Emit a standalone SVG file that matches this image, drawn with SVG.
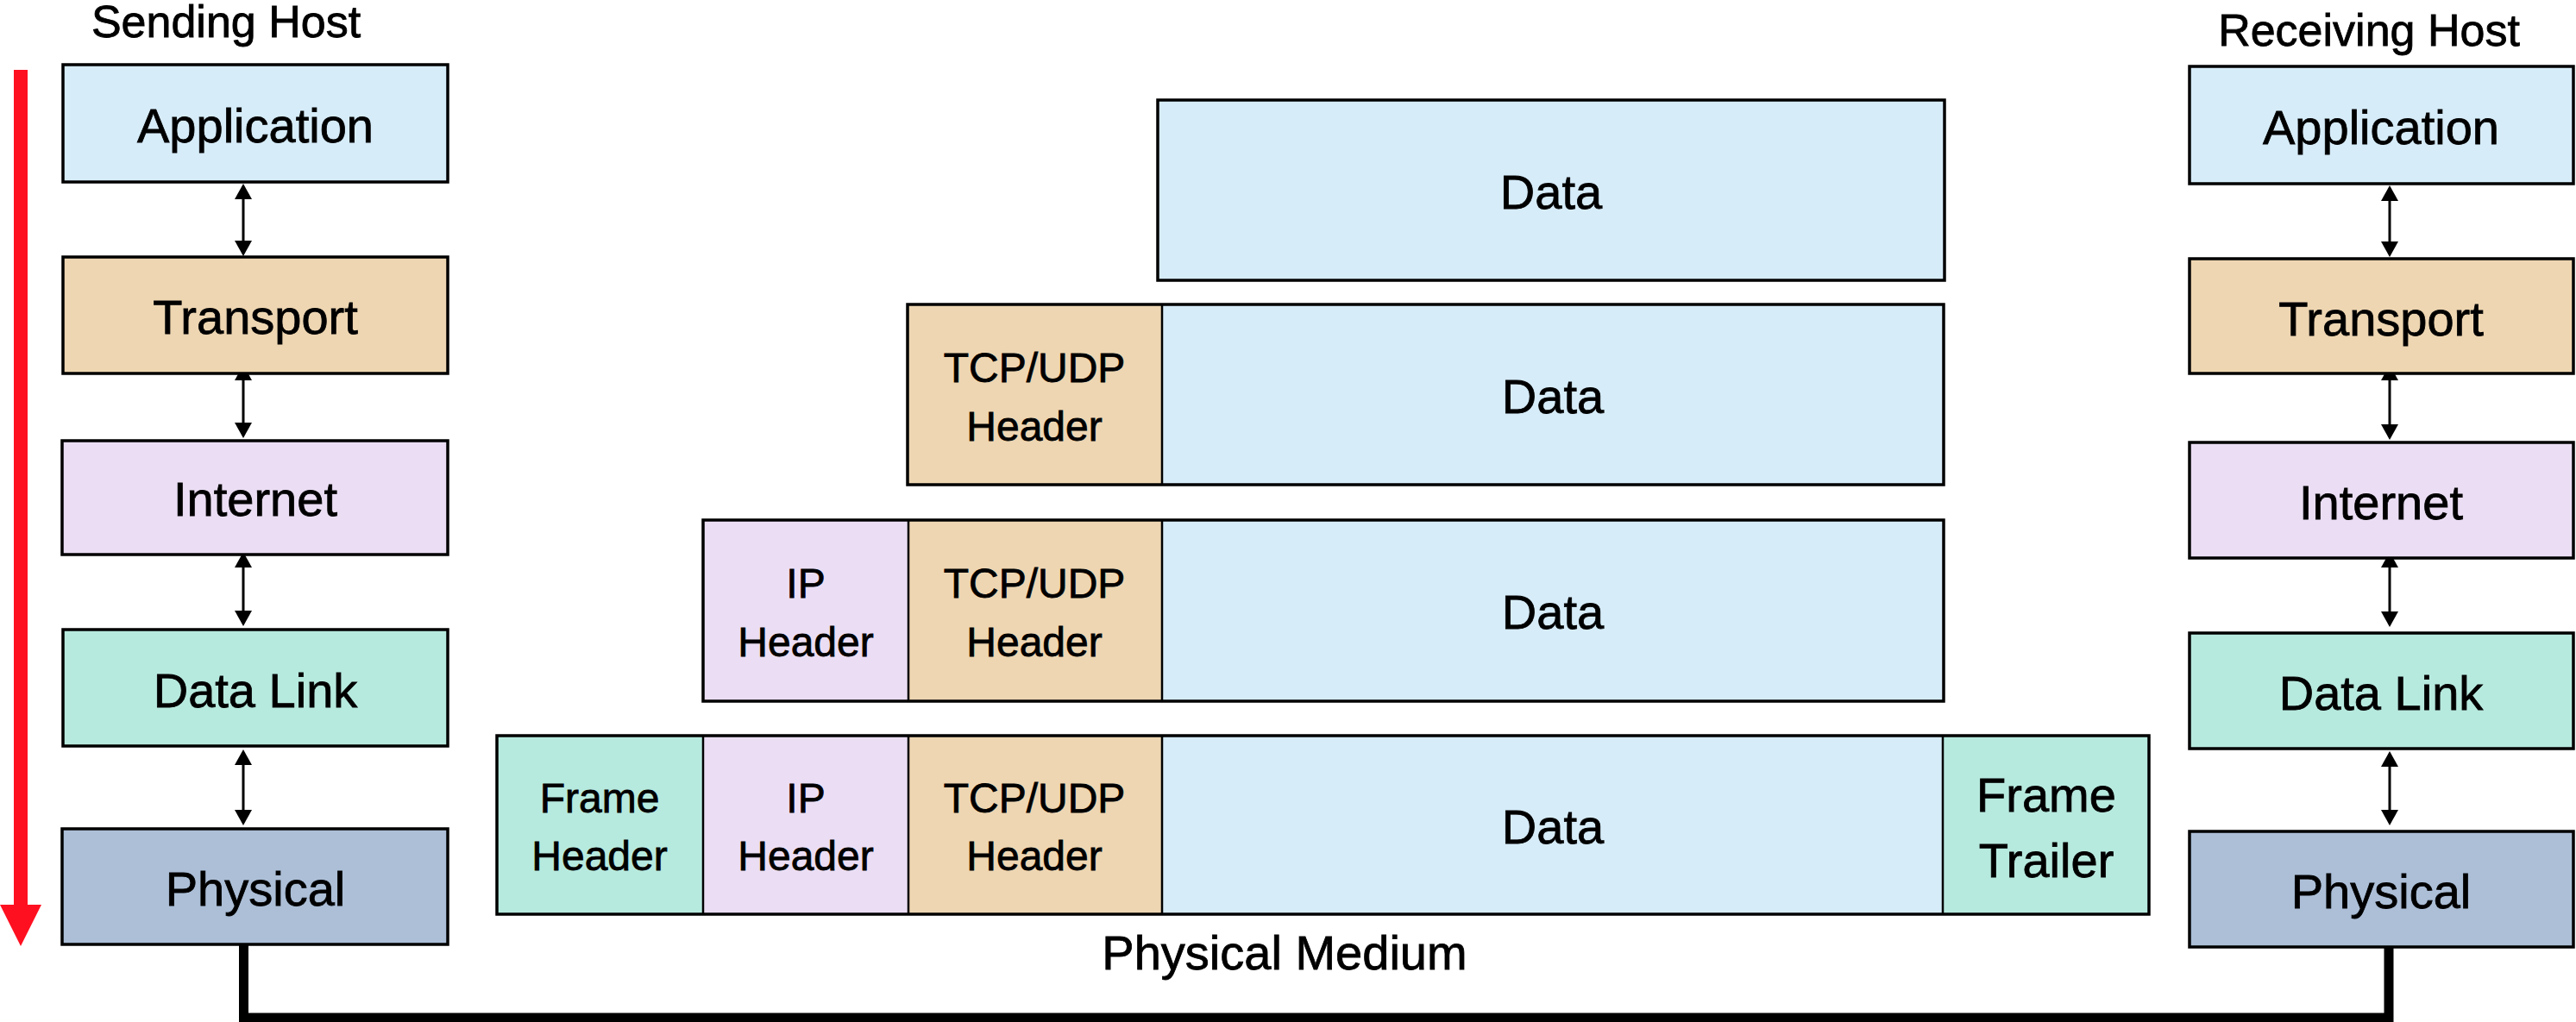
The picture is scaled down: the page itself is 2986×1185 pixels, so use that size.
<svg xmlns="http://www.w3.org/2000/svg" width="2986" height="1185" viewBox="0 0 2986 1185">
<style>
  text { font-family: "Liberation Sans", Arial, sans-serif; fill: #000; stroke: #000; stroke-width: 0.8; text-anchor: middle; }
  .lbl { font-size: 56px; }
  .hdr { font-size: 48px; }
  .ttl { font-size: 52px; }
  .box { stroke: #000; stroke-width: 3.5; }
  .app { fill: #D6ECF9; }
  .tra { fill: #EED6B2; }
  .int { fill: #EBDEF4; }
  .dl  { fill: #B7EADF; }
  .phy { fill: #ACBFD7; }
  .div { stroke: #000; stroke-width: 2.5; }
  .frame { fill: none; stroke: #000; stroke-width: 3.5; }
  .conn { stroke: #000; stroke-width: 3; fill: none; marker-start: url(#ah); marker-end: url(#ah); }
</style>
<defs>
  <marker id="ah" viewBox="0 0 18 20" refX="14" refY="10" markerWidth="18" markerHeight="20" markerUnits="userSpaceOnUse" orient="auto-start-reverse">
    <path d="M0,0 L18,10 L0,20 z" fill="#000"/>
  </marker>
</defs>
<rect width="2986" height="1185" fill="#fff"/>

<!-- Titles -->
<text class="ttl" x="262" y="43">Sending Host</text>
<text class="ttl" x="2746" y="53">Receiving Host</text>

<!-- Red direction arrow -->
<g id="direction-arrow">
  <rect x="16" y="81" width="16" height="970" fill="#FF1020"/>
  <polygon points="0,1049 48,1049 24,1097" fill="#FF1020"/>
</g>

<!-- Connectors -->
<g id="connectors">
  <path d="M282.5,1095 V1180 H2769 V1098" stroke="#000" stroke-width="11" fill="none" stroke-linejoin="miter"/>
  <line class="conn" x1="282" y1="217" x2="282" y2="293"/>
  <line class="conn" x1="282" y1="427" x2="282" y2="504"/>
  <line class="conn" x1="282" y1="644" x2="282" y2="722"/>
  <line class="conn" x1="282" y1="873" x2="282" y2="953"/>
  <line class="conn" x1="2770" y1="219" x2="2770" y2="294"/>
  <line class="conn" x1="2770" y1="427" x2="2770" y2="506"/>
  <line class="conn" x1="2770" y1="644" x2="2770" y2="723"/>
  <line class="conn" x1="2770" y1="875" x2="2770" y2="953"/>
</g>

<!-- Sending host stack -->
<g id="s-application"><rect class="box app" x="73" y="75" width="446" height="136"/><text class="lbl" x="296" y="165">Application</text></g>
<g id="s-transport"><rect class="box tra" x="73" y="298" width="446" height="135"/><text class="lbl" x="296" y="387">Transport</text></g>
<g id="s-internet"><rect class="box int" x="72" y="511" width="447" height="132"/><text class="lbl" x="296" y="598">Internet</text></g>
<g id="s-datalink"><rect class="box dl" x="73" y="730" width="446" height="135"/><text class="lbl" x="296" y="820">Data Link</text></g>
<g id="s-physical"><rect class="box phy" x="72" y="961" width="447" height="134"/><text class="lbl" x="296" y="1050">Physical</text></g>

<!-- Receiving host stack -->
<g id="r-application"><rect class="box app" x="2538" y="77" width="445" height="136"/><text class="lbl" x="2760" y="167">Application</text></g>
<g id="r-transport"><rect class="box tra" x="2538" y="300" width="445" height="133"/><text class="lbl" x="2760" y="389">Transport</text></g>
<g id="r-internet"><rect class="box int" x="2538" y="513" width="445" height="134"/><text class="lbl" x="2760" y="602">Internet</text></g>
<g id="r-datalink"><rect class="box dl" x="2538" y="734" width="445" height="134"/><text class="lbl" x="2760" y="823">Data Link</text></g>
<g id="r-physical"><rect class="box phy" x="2538" y="964" width="445" height="134"/><text class="lbl" x="2760" y="1053">Physical</text></g>

<!-- Packet row 1 -->
<g id="row1">
  <rect class="box app" x="1342" y="116" width="912" height="209"/>
  <text class="lbl" x="1798" y="242">Data</text>
</g>

<!-- Packet row 2 -->
<g id="row2">
  <rect class="tra" x="1052" y="353" width="295" height="209"/>
  <rect class="app" x="1347" y="353" width="906" height="209"/>
  <rect class="frame" x="1052" y="353" width="1201" height="209"/>
  <line class="div" x1="1347" y1="353" x2="1347" y2="562"/>
  <text class="hdr" x="1199" y="443">TCP/UDP</text>
  <text class="hdr" x="1199" y="511">Header</text>
  <text class="lbl" x="1800" y="479">Data</text>
</g>

<!-- Packet row 3 -->
<g id="row3">
  <rect class="int" x="815" y="603" width="238" height="210"/>
  <rect class="tra" x="1053" y="603" width="294" height="210"/>
  <rect class="app" x="1347" y="603" width="906" height="210"/>
  <rect class="frame" x="815" y="603" width="1438" height="210"/>
  <line class="div" x1="1053" y1="603" x2="1053" y2="813"/>
  <line class="div" x1="1347" y1="603" x2="1347" y2="813"/>
  <text class="hdr" x="934" y="693">IP</text>
  <text class="hdr" x="934" y="761">Header</text>
  <text class="hdr" x="1199" y="693">TCP/UDP</text>
  <text class="hdr" x="1199" y="761">Header</text>
  <text class="lbl" x="1800" y="729">Data</text>
</g>

<!-- Packet row 4 -->
<g id="row4">
  <rect class="dl" x="576" y="853" width="239" height="207"/>
  <rect class="int" x="815" y="853" width="238" height="207"/>
  <rect class="tra" x="1053" y="853" width="294" height="207"/>
  <rect class="app" x="1347" y="853" width="905" height="207"/>
  <rect class="dl" x="2252" y="853" width="239" height="207"/>
  <rect class="frame" x="576" y="853" width="1915" height="207"/>
  <line class="div" x1="815" y1="853" x2="815" y2="1060"/>
  <line class="div" x1="1053" y1="853" x2="1053" y2="1060"/>
  <line class="div" x1="1347" y1="853" x2="1347" y2="1060"/>
  <line class="div" x1="2252" y1="853" x2="2252" y2="1060"/>
  <text class="hdr" x="695" y="942">Frame</text>
  <text class="hdr" x="695" y="1009">Header</text>
  <text class="hdr" x="934" y="942">IP</text>
  <text class="hdr" x="934" y="1009">Header</text>
  <text class="hdr" x="1199" y="942">TCP/UDP</text>
  <text class="hdr" x="1199" y="1009">Header</text>
  <text class="lbl" x="1800" y="978">Data</text>
  <text class="lbl" x="2372" y="941">Frame</text>
  <text class="lbl" x="2372" y="1017">Trailer</text>
</g>

<text class="lbl" x="1489" y="1124" font-size="54">Physical Medium</text>
</svg>
